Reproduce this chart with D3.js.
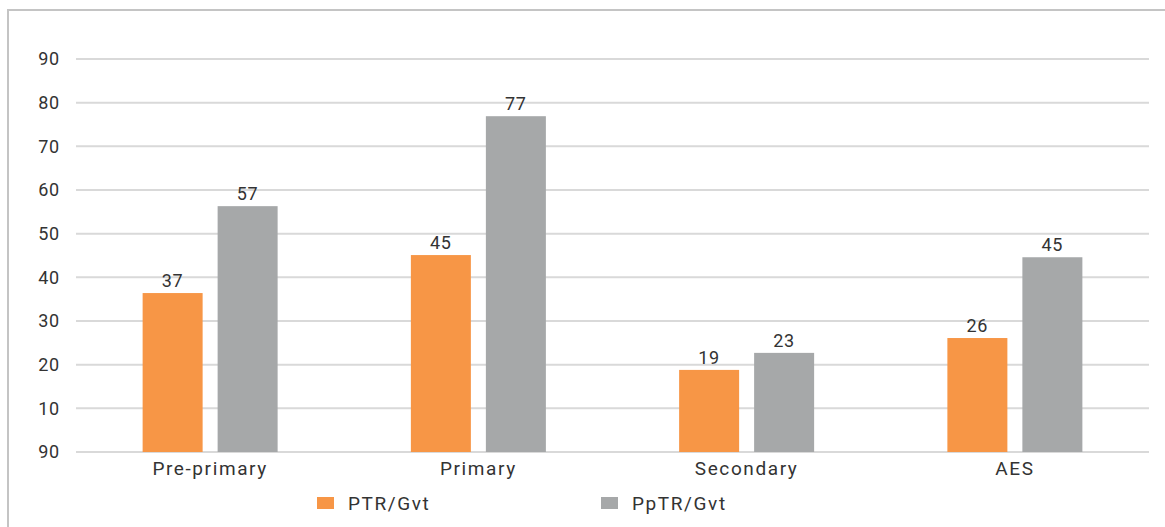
<!DOCTYPE html>
<html>
<head>
<meta charset="utf-8">
<script src="https://cdn.jsdelivr.net/npm/d3@7"></script>
<style>
  html, body { margin: 0; padding: 0; background: #fff; }
  svg { display: block; font-family: Roboto, "DejaVu Sans", sans-serif; }
  .tick-label, .val-label { fill: #333; font-size: 18px; letter-spacing: 0.8px; }
  .cat-label, .legend-label { fill: #333; font-size: 19px; letter-spacing: 1.6px; }
</style>
</head>
<body>
<div id="chart"></div>
<script>
// Chart data
const categories = ['Pre-primary', 'Primary', 'Secondary', 'AES'];
const seriesNames = ['PTR/Gvt', 'PpTR/Gvt'];
const ptrValues = [36.4, 45.1, 18.8, 26.1];
const pptrValues = [56.3, 76.9, 22.7, 44.6];
const ptrLabels = ['37', '45', '19', '26'];
const pptrLabels = ['57', '77', '23', '45'];
const yTicks = [0, 10, 20, 30, 40, 50, 60, 70, 80, 90];
const yTickLabels = ['90', '10', '20', '30', '40', '50', '60', '70', '80', '90'];

const colors = { 'PTR/Gvt': '#f79646', 'PpTR/Gvt': '#a6a8a9' };

const width = 1165;
const height = 527;
const margin = { top: 59, right: 16, bottom: 75, left: 76 };
const chartWidth = width - margin.left - margin.right;
const chartHeight = height - margin.top - margin.bottom;

const svg = d3.select('#chart')
    .append('svg')
    .attr('width', width)
    .attr('height', height);

// Frame (only top and left edges show in the original)
svg.append('rect')
    .attr('x', 8)
    .attr('y', 10)
    .attr('width', width + 20)
    .attr('height', height + 20)
    .attr('fill', 'none')
    .attr('stroke', '#c4c4c4')
    .attr('stroke-width', 2);

const g = svg.append('g')
    .attr('transform', `translate(${margin.left},${margin.top})`);

const y = d3.scaleLinear()
    .domain([0, 90])
    .range([chartHeight, 0]);

const x0 = d3.scaleBand()
    .domain(categories)
    .range([0, chartWidth])
    .padding(0);

const groupWidth = 135;
const x1 = d3.scaleBand()
    .domain(seriesNames)
    .range([0, groupWidth])
    .paddingInner(0.2);

// Gridlines
g.selectAll('.grid')
    .data(yTicks)
    .join('line')
    .attr('class', 'grid')
    .attr('x1', 0)
    .attr('x2', chartWidth)
    .attr('y1', d => y(d))
    .attr('y2', d => y(d))
    .attr('stroke', '#d9d9d9')
    .attr('stroke-width', 2);

// Y tick labels
g.selectAll('.tick-label')
    .data(yTicks)
    .join('text')
    .attr('class', 'tick-label')
    .attr('x', -16)
    .attr('y', d => y(d))
    .attr('dy', '0.35em')
    .attr('text-anchor', 'end')
    .text((d, i) => yTickLabels[i]);

// Bars
const rows = categories.map((c, i) => ({
    category: c,
    bars: [
        { series: seriesNames[0], value: ptrValues[i], label: ptrLabels[i] },
        { series: seriesNames[1], value: pptrValues[i], label: pptrLabels[i] }
    ]
}));

const groups = g.selectAll('.group')
    .data(rows)
    .join('g')
    .attr('class', 'group')
    .attr('transform', d => `translate(${x0(d.category) + (x0.bandwidth() - groupWidth) / 2},0)`);

groups.selectAll('rect')
    .data(d => d.bars)
    .join('rect')
    .attr('x', d => x1(d.series))
    .attr('y', d => y(d.value))
    .attr('width', x1.bandwidth())
    .attr('height', d => chartHeight - y(d.value))
    .attr('fill', d => colors[d.series]);

groups.selectAll('.val-label')
    .data(d => d.bars)
    .join('text')
    .attr('class', 'val-label')
    .attr('x', d => x1(d.series) + x1.bandwidth() / 2)
    .attr('y', d => y(d.value) - 6)
    .attr('text-anchor', 'middle')
    .text(d => d.label);

// Category labels
g.selectAll('.cat-label')
    .data(categories)
    .join('text')
    .attr('class', 'cat-label')
    .attr('x', d => x0(d) + x0.bandwidth() / 2)
    .attr('y', chartHeight + 23)
    .attr('text-anchor', 'middle')
    .text(d => d);

// Legend
const legend = svg.append('g')
    .attr('transform', 'translate(317,497)');

const legendItems = legend.selectAll('.legend-item')
    .data(seriesNames)
    .join('g')
    .attr('class', 'legend-item')
    .attr('transform', (d, i) => `translate(${i * 284},0)`);

legendItems.append('rect')
    .attr('width', 17)
    .attr('height', 12)
    .attr('fill', d => colors[d]);

legendItems.append('text')
    .attr('class', 'legend-label')
    .attr('x', 31)
    .attr('y', 6)
    .attr('dy', '0.35em')
    .text(d => d);
</script>
</body>
</html>
